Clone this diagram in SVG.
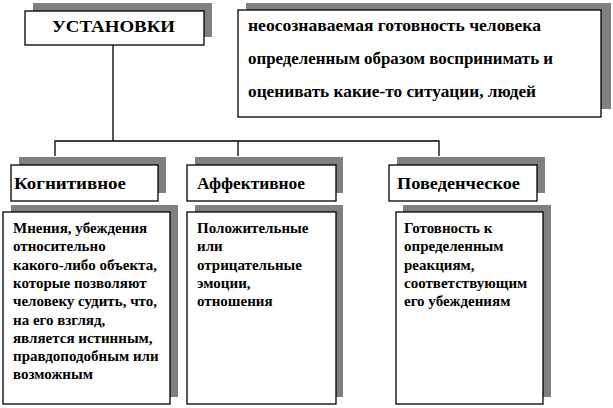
<svg xmlns="http://www.w3.org/2000/svg" width="613" height="408" viewBox="0 0 613 408">
<style>
.sh{fill:#808080}
.bx{fill:#fff;stroke:#000;stroke-width:1.3}
.t{font-family:"Liberation Serif","DejaVu Serif","Times New Roman",serif;font-weight:bold;fill:#000}
.ti{font-size:17px}
.d{font-size:16px}
.c{font-size:16px}
.s{font-size:15px}
.ln{fill:none;stroke:#000;stroke-width:1.3}
</style>
<rect width="613" height="408" fill="#fff"/>
<g id="connectors">
<path class="ln" d="M113 45V141M55 156V141H439V156M238 141V156"/>
</g>
<g id="title">
<rect class="sh" x="33" y="3" width="179" height="34"/>
<rect class="bx" x="25" y="11" width="179" height="34"/>
<text class="t ti" x="52" y="32" textLength="123" lengthAdjust="spacingAndGlyphs">УСТАНОВКИ</text>
</g>
<g id="definition">
<rect class="sh" x="246" y="3" width="365" height="106"/>
<rect class="bx" x="238" y="10" width="363" height="107"/>
<text class="t d" x="248" y="31" textLength="293" lengthAdjust="spacingAndGlyphs">неосознаваемая готовность человека</text>
<text class="t d" x="248" y="64" textLength="305" lengthAdjust="spacingAndGlyphs">определенным образом воспринимать и</text>
<text class="t d" x="248" y="97" textLength="288" lengthAdjust="spacingAndGlyphs">оценивать какие-то ситуации, людей</text>
</g>
<g id="cognitive">
<rect class="sh" x="19" y="157" width="147" height="36"/>
<rect class="bx" x="11" y="165" width="147" height="36"/>
<text class="t c" x="14" y="189" textLength="112" lengthAdjust="spacingAndGlyphs">Когнитивное</text>
</g>
<g id="affective">
<rect class="sh" x="195" y="157" width="148" height="36"/>
<rect class="bx" x="187" y="165" width="149" height="36"/>
<text class="t c" x="197" y="189" textLength="108" lengthAdjust="spacingAndGlyphs">Аффективное</text>
</g>
<g id="behavioral">
<rect class="sh" x="397" y="157" width="148" height="36"/>
<rect class="bx" x="389" y="165" width="148" height="36"/>
<text class="t c" x="397" y="189" textLength="123" lengthAdjust="spacingAndGlyphs">Поведенческое</text>
</g>
<g id="cognitive-desc">
<rect class="sh" x="11" y="205" width="167" height="192"/>
<rect class="bx" x="3" y="212" width="167" height="192"/>
<text class="t s" x="13" y="233">Мнения, убеждения</text>
<text class="t s" x="13" y="251.3">относительно</text>
<text class="t s" x="13" y="269.6">какого-либо объекта,</text>
<text class="t s" x="13" y="287.9">которые позволяют</text>
<text class="t s" x="13" y="306.2">человеку судить, что,</text>
<text class="t s" x="13" y="324.5">на его взгляд,</text>
<text class="t s" x="13" y="342.8">является истинным,</text>
<text class="t s" x="13" y="361.1">правдоподобным или</text>
<text class="t s" x="13" y="379.4">возможным</text>
</g>
<g id="affective-desc">
<rect class="sh" x="195" y="205" width="148" height="192"/>
<rect class="bx" x="187" y="212" width="149" height="192"/>
<text class="t s" x="197" y="233">Положительные</text>
<text class="t s" x="197" y="251.3">или</text>
<text class="t s" x="197" y="269.6">отрицательные</text>
<text class="t s" x="197" y="287.9">эмоции,</text>
<text class="t s" x="197" y="306.2">отношения</text>
</g>
<g id="behavioral-desc">
<rect class="sh" x="403" y="205" width="148" height="192"/>
<rect class="bx" x="396" y="212" width="147" height="192"/>
<text class="t s" x="404" y="233">Готовность к</text>
<text class="t s" x="404" y="251.3">определенным</text>
<text class="t s" x="404" y="269.6">реакциям,</text>
<text class="t s" x="404" y="287.9">соответствующим</text>
<text class="t s" x="404" y="306.2">его убеждениям</text>
</g>
</svg>
